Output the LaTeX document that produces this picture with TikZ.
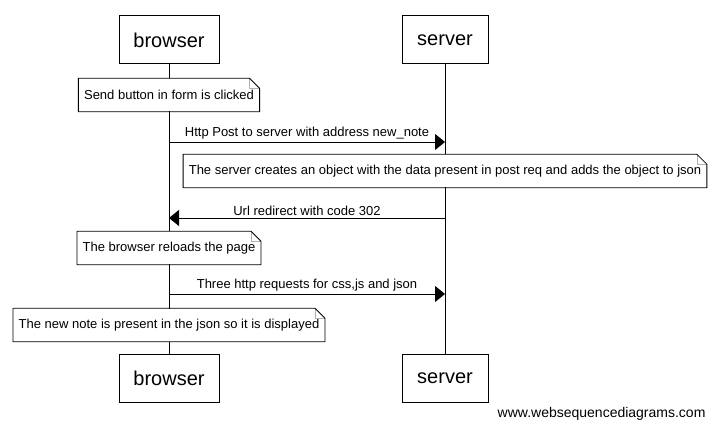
\documentclass[tikz,border=0pt]{standalone}
\usepackage{fontspec}
\setmainfont{Liberation Sans}
\usepackage{tikz}
\usetikzlibrary{arrows.meta,positioning,calc}

\begin{document}
\begin{tikzpicture}[x=1pt,y=-1pt,font=\fontsize{13}{15}\selectfont,
  p/.style={draw,line width=1pt,fill=white,minimum width=100pt,minimum height=48pt,font=\fontsize{20}{24}\selectfont},
  nt/.style={fill=white,minimum height=33pt,inner xsep=5.5pt,inner ysep=0pt},
  a/.style={-{Triangle[length=10pt,width=16pt]},line width=0.8pt},
  l/.style={line width=0.8pt}]
  \useasboundingbox (0,0) rectangle (719,427);
  % participants
  \node[p] (bt) at (169,40) {browser};
  \node[p,minimum width=86pt] (st) at (445,40) {server};
  \node[p] (bb) at (169,378.5) {browser};
  \node[p,minimum width=86pt] (sb) at (445,378.5) {server};
  \draw[l] (bt.south) -- (bb.north);
  \draw[l] (st.south) -- (sb.north);
  % notes
  \node[nt] (n1) at (169,95) {Send button in form is clicked};
  \node[nt] (n2) at (445,171) {The server creates an object with the data present in post req and adds the object to json};
  \node[nt] (n3) at (169,248) {The browser reloads the page};
  \node[nt] (n4) at (169,325) {The new note is present in the json so it is displayed};
  \foreach \n in {n1,n2,n3,n4} {
    \draw[gray!60] ([xshift=-10pt]\n.north east) -- ([xshift=-10pt,yshift=-10pt]\n.north east) -- ([yshift=-10pt]\n.north east);
    \draw[l] (\n.south west) -- (\n.south east) -- ([yshift=-10pt]\n.north east)
      -- ([xshift=-10pt]\n.north east) -- (\n.north west) -- cycle;
  }
  % messages
  \coordinate (b1) at (bt |- 0,142);
  \coordinate (s1) at (st |- 0,142);
  \coordinate (b2) at (bt |- 0,218);
  \coordinate (s2) at (st |- 0,218);
  \coordinate (b3) at (bt |- 0,294);
  \coordinate (s3) at (st |- 0,294);
  \draw[a] (b1) -- node[above=-1pt]{Http Post to server with address new\_note} (s1);
  \draw[a] (s2) -- node[above=-1pt]{Url redirect with code 302} (b2);
  \draw[a] (b3) -- node[above=-1pt]{Three http requests for css,js and json} (s3);
  \node[anchor=base east,font=\fontsize{14}{16}\selectfont] (wm) at (709,417) {www.websequencediagrams.com};
\end{tikzpicture}
\end{document}
